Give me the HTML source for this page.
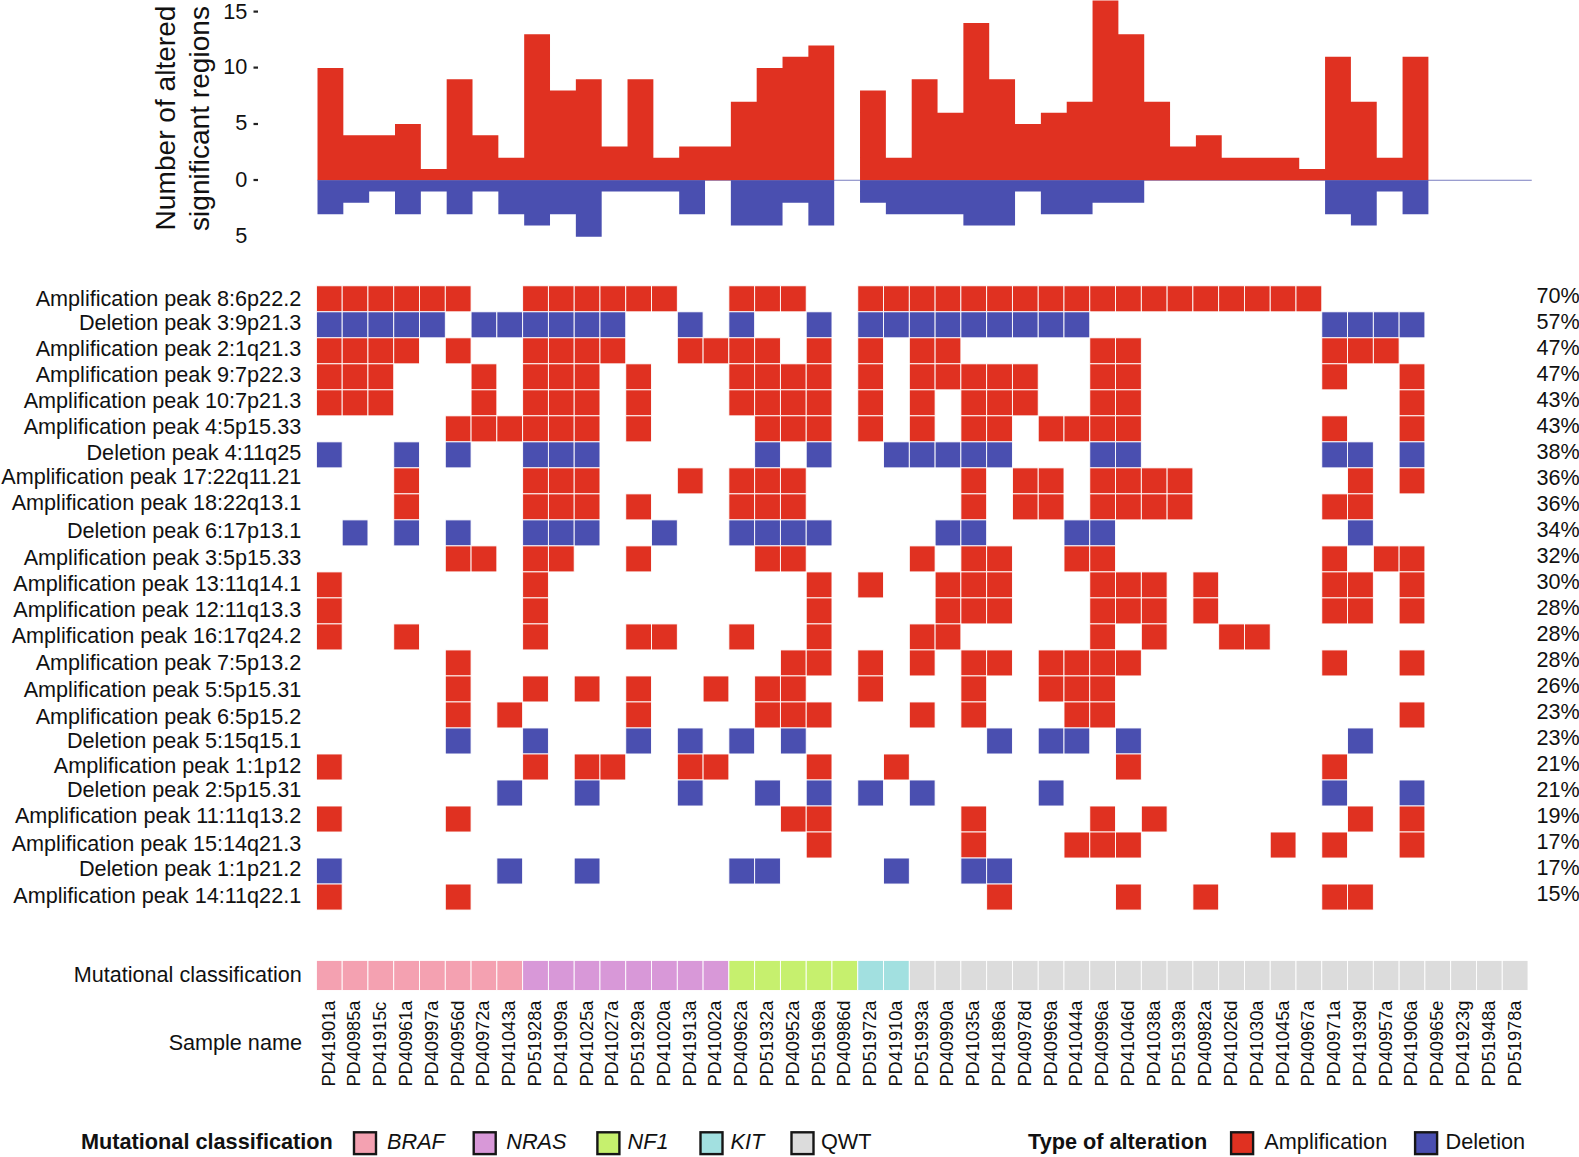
<!DOCTYPE html>
<html lang="en"><head><meta charset="utf-8"><title>Altered significant regions per sample</title>
<style>html,body{margin:0;padding:0;background:#fff}svg{display:block}text{font-family:'Liberation Sans', Arial, Helvetica, sans-serif;fill:#111}</style></head><body>
<svg width="1579" height="1157" viewBox="0 0 1579 1157">
<rect width="1579" height="1157" fill="#fff"/>
<g id="bars" shape-rendering="geometricPrecision">
<line x1="317.5" x2="1531.75" y1="180.25" y2="180.25" stroke="#7A7EC0" stroke-width="1"/>
<path d="M317.50 180.25 L317.50 67.95 L343.33 67.95 L343.33 135.33 L369.17 135.33 L369.17 135.33 L395.00 135.33 L395.00 124.10 L420.84 124.10 L420.84 169.02 L446.68 169.02 L446.68 79.18 L472.51 79.18 L472.51 135.33 L498.35 135.33 L498.35 157.79 L524.18 157.79 L524.18 34.26 L550.01 34.26 L550.01 90.41 L575.85 90.41 L575.85 79.18 L601.68 79.18 L601.68 146.56 L627.52 146.56 L627.52 79.18 L653.36 79.18 L653.36 157.79 L679.19 157.79 L679.19 146.56 L705.03 146.56 L705.03 146.56 L730.86 146.56 L730.86 101.64 L756.69 101.64 L756.69 67.95 L782.53 67.95 L782.53 56.72 L808.37 56.72 L808.37 45.49 L834.20 45.49 L834.20 180.25Z M860.03 180.25 L860.03 90.41 L885.87 90.41 L885.87 157.79 L911.71 157.79 L911.71 79.18 L937.54 79.18 L937.54 112.87 L963.38 112.87 L963.38 23.03 L989.21 23.03 L989.21 79.18 L1015.05 79.18 L1015.05 124.10 L1040.88 124.10 L1040.88 112.87 L1066.72 112.87 L1066.72 101.64 L1092.55 101.64 L1092.55 0.57 L1118.38 0.57 L1118.38 34.26 L1144.22 34.26 L1144.22 101.64 L1170.06 101.64 L1170.06 146.56 L1195.89 146.56 L1195.89 135.33 L1221.72 135.33 L1221.72 157.79 L1247.56 157.79 L1247.56 157.79 L1273.39 157.79 L1273.39 157.79 L1299.23 157.79 L1299.23 169.02 L1325.07 169.02 L1325.07 56.72 L1350.90 56.72 L1350.90 101.64 L1376.74 101.64 L1376.74 157.79 L1402.57 157.79 L1402.57 56.72 L1428.40 56.72 L1428.40 180.25Z" fill="#E03121"/>
<path d="M317.50 180.25 L317.50 214.18 L343.33 214.18 L343.33 202.87 L369.17 202.87 L369.17 191.56 L395.00 191.56 L395.00 214.18 L420.84 214.18 L420.84 191.56 L446.68 191.56 L446.68 214.18 L472.51 214.18 L472.51 191.56 L498.35 191.56 L498.35 214.18 L524.18 214.18 L524.18 225.49 L550.01 225.49 L550.01 214.18 L575.85 214.18 L575.85 236.80 L601.68 236.80 L601.68 191.56 L627.52 191.56 L627.52 191.56 L653.36 191.56 L653.36 191.56 L679.19 191.56 L679.19 214.18 L705.03 214.18 L705.03 180.25Z M730.86 180.25 L730.86 225.49 L756.69 225.49 L756.69 225.49 L782.53 225.49 L782.53 202.87 L808.37 202.87 L808.37 225.49 L834.20 225.49 L834.20 180.25Z M860.03 180.25 L860.03 202.87 L885.87 202.87 L885.87 214.18 L911.71 214.18 L911.71 214.18 L937.54 214.18 L937.54 214.18 L963.38 214.18 L963.38 225.49 L989.21 225.49 L989.21 225.49 L1015.05 225.49 L1015.05 191.56 L1040.88 191.56 L1040.88 214.18 L1066.72 214.18 L1066.72 214.18 L1092.55 214.18 L1092.55 202.87 L1118.38 202.87 L1118.38 202.87 L1144.22 202.87 L1144.22 180.25Z M1325.07 180.25 L1325.07 214.18 L1350.90 214.18 L1350.90 225.49 L1376.74 225.49 L1376.74 191.56 L1402.57 191.56 L1402.57 214.18 L1428.40 214.18 L1428.40 180.25Z" fill="#4A4FB0"/>
</g>
<g id="yaxis" font-size="21.7">
<text x="247.4" y="19.4" text-anchor="end">15</text>
<rect x="253.5" y="10.5" width="4.5" height="2.2" fill="#222"/>
<text x="247.4" y="74.0" text-anchor="end">10</text>
<rect x="253.5" y="66.5" width="4.5" height="2.2" fill="#222"/>
<text x="247.4" y="130.3" text-anchor="end">5</text>
<rect x="253.5" y="122.9" width="4.5" height="2.2" fill="#222"/>
<text x="247.4" y="187.2" text-anchor="end">0</text>
<rect x="253.5" y="178.9" width="4.5" height="2.2" fill="#222"/>
<text x="247.4" y="242.8" text-anchor="end">5</text>
</g>
<g id="ytitle" font-size="28.1">
<text transform="translate(175.0 118) rotate(-90)" text-anchor="middle">Number of altered</text>
<text transform="translate(208.9 118.5) rotate(-90)" text-anchor="middle">significant regions</text>
</g>
<g id="grid" stroke="#fff" stroke-width="0.9">
<rect x="316.40" y="285.80" width="25.78" height="26.01" fill="#E03121"/>
<rect x="342.18" y="285.80" width="25.78" height="26.01" fill="#E03121"/>
<rect x="367.96" y="285.80" width="25.78" height="26.01" fill="#E03121"/>
<rect x="393.74" y="285.80" width="25.78" height="26.01" fill="#E03121"/>
<rect x="419.52" y="285.80" width="25.78" height="26.01" fill="#E03121"/>
<rect x="445.29" y="285.80" width="25.78" height="26.01" fill="#E03121"/>
<rect x="522.63" y="285.80" width="25.78" height="26.01" fill="#E03121"/>
<rect x="548.41" y="285.80" width="25.78" height="26.01" fill="#E03121"/>
<rect x="574.19" y="285.80" width="25.78" height="26.01" fill="#E03121"/>
<rect x="599.97" y="285.80" width="25.78" height="26.01" fill="#E03121"/>
<rect x="625.75" y="285.80" width="25.78" height="26.01" fill="#E03121"/>
<rect x="651.53" y="285.80" width="25.78" height="26.01" fill="#E03121"/>
<rect x="728.86" y="285.80" width="25.78" height="26.01" fill="#E03121"/>
<rect x="754.64" y="285.80" width="25.78" height="26.01" fill="#E03121"/>
<rect x="780.42" y="285.80" width="25.78" height="26.01" fill="#E03121"/>
<rect x="857.76" y="285.80" width="25.78" height="26.01" fill="#E03121"/>
<rect x="883.54" y="285.80" width="25.78" height="26.01" fill="#E03121"/>
<rect x="909.32" y="285.80" width="25.78" height="26.01" fill="#E03121"/>
<rect x="935.10" y="285.80" width="25.78" height="26.01" fill="#E03121"/>
<rect x="960.88" y="285.80" width="25.78" height="26.01" fill="#E03121"/>
<rect x="986.65" y="285.80" width="25.78" height="26.01" fill="#E03121"/>
<rect x="1012.43" y="285.80" width="25.78" height="26.01" fill="#E03121"/>
<rect x="1038.21" y="285.80" width="25.78" height="26.01" fill="#E03121"/>
<rect x="1063.99" y="285.80" width="25.78" height="26.01" fill="#E03121"/>
<rect x="1089.77" y="285.80" width="25.78" height="26.01" fill="#E03121"/>
<rect x="1115.55" y="285.80" width="25.78" height="26.01" fill="#E03121"/>
<rect x="1141.33" y="285.80" width="25.78" height="26.01" fill="#E03121"/>
<rect x="1167.11" y="285.80" width="25.78" height="26.01" fill="#E03121"/>
<rect x="1192.89" y="285.80" width="25.78" height="26.01" fill="#E03121"/>
<rect x="1218.66" y="285.80" width="25.78" height="26.01" fill="#E03121"/>
<rect x="1244.44" y="285.80" width="25.78" height="26.01" fill="#E03121"/>
<rect x="1270.22" y="285.80" width="25.78" height="26.01" fill="#E03121"/>
<rect x="1296.00" y="285.80" width="25.78" height="26.01" fill="#E03121"/>
<rect x="316.40" y="311.81" width="25.78" height="26.01" fill="#4A4FB0"/>
<rect x="342.18" y="311.81" width="25.78" height="26.01" fill="#4A4FB0"/>
<rect x="367.96" y="311.81" width="25.78" height="26.01" fill="#4A4FB0"/>
<rect x="393.74" y="311.81" width="25.78" height="26.01" fill="#4A4FB0"/>
<rect x="419.52" y="311.81" width="25.78" height="26.01" fill="#4A4FB0"/>
<rect x="471.07" y="311.81" width="25.78" height="26.01" fill="#4A4FB0"/>
<rect x="496.85" y="311.81" width="25.78" height="26.01" fill="#4A4FB0"/>
<rect x="522.63" y="311.81" width="25.78" height="26.01" fill="#4A4FB0"/>
<rect x="548.41" y="311.81" width="25.78" height="26.01" fill="#4A4FB0"/>
<rect x="574.19" y="311.81" width="25.78" height="26.01" fill="#4A4FB0"/>
<rect x="599.97" y="311.81" width="25.78" height="26.01" fill="#4A4FB0"/>
<rect x="677.31" y="311.81" width="25.78" height="26.01" fill="#4A4FB0"/>
<rect x="728.86" y="311.81" width="25.78" height="26.01" fill="#4A4FB0"/>
<rect x="806.20" y="311.81" width="25.78" height="26.01" fill="#4A4FB0"/>
<rect x="857.76" y="311.81" width="25.78" height="26.01" fill="#4A4FB0"/>
<rect x="883.54" y="311.81" width="25.78" height="26.01" fill="#4A4FB0"/>
<rect x="909.32" y="311.81" width="25.78" height="26.01" fill="#4A4FB0"/>
<rect x="935.10" y="311.81" width="25.78" height="26.01" fill="#4A4FB0"/>
<rect x="960.88" y="311.81" width="25.78" height="26.01" fill="#4A4FB0"/>
<rect x="986.65" y="311.81" width="25.78" height="26.01" fill="#4A4FB0"/>
<rect x="1012.43" y="311.81" width="25.78" height="26.01" fill="#4A4FB0"/>
<rect x="1038.21" y="311.81" width="25.78" height="26.01" fill="#4A4FB0"/>
<rect x="1063.99" y="311.81" width="25.78" height="26.01" fill="#4A4FB0"/>
<rect x="1321.78" y="311.81" width="25.78" height="26.01" fill="#4A4FB0"/>
<rect x="1347.56" y="311.81" width="25.78" height="26.01" fill="#4A4FB0"/>
<rect x="1373.34" y="311.81" width="25.78" height="26.01" fill="#4A4FB0"/>
<rect x="1399.12" y="311.81" width="25.78" height="26.01" fill="#4A4FB0"/>
<rect x="316.40" y="337.82" width="25.78" height="26.01" fill="#E03121"/>
<rect x="342.18" y="337.82" width="25.78" height="26.01" fill="#E03121"/>
<rect x="367.96" y="337.82" width="25.78" height="26.01" fill="#E03121"/>
<rect x="393.74" y="337.82" width="25.78" height="26.01" fill="#E03121"/>
<rect x="445.29" y="337.82" width="25.78" height="26.01" fill="#E03121"/>
<rect x="522.63" y="337.82" width="25.78" height="26.01" fill="#E03121"/>
<rect x="548.41" y="337.82" width="25.78" height="26.01" fill="#E03121"/>
<rect x="574.19" y="337.82" width="25.78" height="26.01" fill="#E03121"/>
<rect x="599.97" y="337.82" width="25.78" height="26.01" fill="#E03121"/>
<rect x="677.31" y="337.82" width="25.78" height="26.01" fill="#E03121"/>
<rect x="703.09" y="337.82" width="25.78" height="26.01" fill="#E03121"/>
<rect x="728.86" y="337.82" width="25.78" height="26.01" fill="#E03121"/>
<rect x="754.64" y="337.82" width="25.78" height="26.01" fill="#E03121"/>
<rect x="806.20" y="337.82" width="25.78" height="26.01" fill="#E03121"/>
<rect x="857.76" y="337.82" width="25.78" height="26.01" fill="#E03121"/>
<rect x="909.32" y="337.82" width="25.78" height="26.01" fill="#E03121"/>
<rect x="935.10" y="337.82" width="25.78" height="26.01" fill="#E03121"/>
<rect x="1089.77" y="337.82" width="25.78" height="26.01" fill="#E03121"/>
<rect x="1115.55" y="337.82" width="25.78" height="26.01" fill="#E03121"/>
<rect x="1321.78" y="337.82" width="25.78" height="26.01" fill="#E03121"/>
<rect x="1347.56" y="337.82" width="25.78" height="26.01" fill="#E03121"/>
<rect x="1373.34" y="337.82" width="25.78" height="26.01" fill="#E03121"/>
<rect x="316.40" y="363.83" width="25.78" height="26.01" fill="#E03121"/>
<rect x="342.18" y="363.83" width="25.78" height="26.01" fill="#E03121"/>
<rect x="367.96" y="363.83" width="25.78" height="26.01" fill="#E03121"/>
<rect x="471.07" y="363.83" width="25.78" height="26.01" fill="#E03121"/>
<rect x="522.63" y="363.83" width="25.78" height="26.01" fill="#E03121"/>
<rect x="548.41" y="363.83" width="25.78" height="26.01" fill="#E03121"/>
<rect x="574.19" y="363.83" width="25.78" height="26.01" fill="#E03121"/>
<rect x="625.75" y="363.83" width="25.78" height="26.01" fill="#E03121"/>
<rect x="728.86" y="363.83" width="25.78" height="26.01" fill="#E03121"/>
<rect x="754.64" y="363.83" width="25.78" height="26.01" fill="#E03121"/>
<rect x="780.42" y="363.83" width="25.78" height="26.01" fill="#E03121"/>
<rect x="806.20" y="363.83" width="25.78" height="26.01" fill="#E03121"/>
<rect x="857.76" y="363.83" width="25.78" height="26.01" fill="#E03121"/>
<rect x="909.32" y="363.83" width="25.78" height="26.01" fill="#E03121"/>
<rect x="935.10" y="363.83" width="25.78" height="26.01" fill="#E03121"/>
<rect x="960.88" y="363.83" width="25.78" height="26.01" fill="#E03121"/>
<rect x="986.65" y="363.83" width="25.78" height="26.01" fill="#E03121"/>
<rect x="1012.43" y="363.83" width="25.78" height="26.01" fill="#E03121"/>
<rect x="1089.77" y="363.83" width="25.78" height="26.01" fill="#E03121"/>
<rect x="1115.55" y="363.83" width="25.78" height="26.01" fill="#E03121"/>
<rect x="1321.78" y="363.83" width="25.78" height="26.01" fill="#E03121"/>
<rect x="1399.12" y="363.83" width="25.78" height="26.01" fill="#E03121"/>
<rect x="316.40" y="389.84" width="25.78" height="26.01" fill="#E03121"/>
<rect x="342.18" y="389.84" width="25.78" height="26.01" fill="#E03121"/>
<rect x="367.96" y="389.84" width="25.78" height="26.01" fill="#E03121"/>
<rect x="471.07" y="389.84" width="25.78" height="26.01" fill="#E03121"/>
<rect x="522.63" y="389.84" width="25.78" height="26.01" fill="#E03121"/>
<rect x="548.41" y="389.84" width="25.78" height="26.01" fill="#E03121"/>
<rect x="574.19" y="389.84" width="25.78" height="26.01" fill="#E03121"/>
<rect x="625.75" y="389.84" width="25.78" height="26.01" fill="#E03121"/>
<rect x="728.86" y="389.84" width="25.78" height="26.01" fill="#E03121"/>
<rect x="754.64" y="389.84" width="25.78" height="26.01" fill="#E03121"/>
<rect x="780.42" y="389.84" width="25.78" height="26.01" fill="#E03121"/>
<rect x="806.20" y="389.84" width="25.78" height="26.01" fill="#E03121"/>
<rect x="857.76" y="389.84" width="25.78" height="26.01" fill="#E03121"/>
<rect x="909.32" y="389.84" width="25.78" height="26.01" fill="#E03121"/>
<rect x="960.88" y="389.84" width="25.78" height="26.01" fill="#E03121"/>
<rect x="986.65" y="389.84" width="25.78" height="26.01" fill="#E03121"/>
<rect x="1012.43" y="389.84" width="25.78" height="26.01" fill="#E03121"/>
<rect x="1089.77" y="389.84" width="25.78" height="26.01" fill="#E03121"/>
<rect x="1115.55" y="389.84" width="25.78" height="26.01" fill="#E03121"/>
<rect x="1399.12" y="389.84" width="25.78" height="26.01" fill="#E03121"/>
<rect x="445.29" y="415.85" width="25.78" height="26.01" fill="#E03121"/>
<rect x="471.07" y="415.85" width="25.78" height="26.01" fill="#E03121"/>
<rect x="496.85" y="415.85" width="25.78" height="26.01" fill="#E03121"/>
<rect x="522.63" y="415.85" width="25.78" height="26.01" fill="#E03121"/>
<rect x="548.41" y="415.85" width="25.78" height="26.01" fill="#E03121"/>
<rect x="574.19" y="415.85" width="25.78" height="26.01" fill="#E03121"/>
<rect x="625.75" y="415.85" width="25.78" height="26.01" fill="#E03121"/>
<rect x="754.64" y="415.85" width="25.78" height="26.01" fill="#E03121"/>
<rect x="780.42" y="415.85" width="25.78" height="26.01" fill="#E03121"/>
<rect x="806.20" y="415.85" width="25.78" height="26.01" fill="#E03121"/>
<rect x="857.76" y="415.85" width="25.78" height="26.01" fill="#E03121"/>
<rect x="909.32" y="415.85" width="25.78" height="26.01" fill="#E03121"/>
<rect x="960.88" y="415.85" width="25.78" height="26.01" fill="#E03121"/>
<rect x="986.65" y="415.85" width="25.78" height="26.01" fill="#E03121"/>
<rect x="1038.21" y="415.85" width="25.78" height="26.01" fill="#E03121"/>
<rect x="1063.99" y="415.85" width="25.78" height="26.01" fill="#E03121"/>
<rect x="1089.77" y="415.85" width="25.78" height="26.01" fill="#E03121"/>
<rect x="1115.55" y="415.85" width="25.78" height="26.01" fill="#E03121"/>
<rect x="1321.78" y="415.85" width="25.78" height="26.01" fill="#E03121"/>
<rect x="1399.12" y="415.85" width="25.78" height="26.01" fill="#E03121"/>
<rect x="316.40" y="441.86" width="25.78" height="26.01" fill="#4A4FB0"/>
<rect x="393.74" y="441.86" width="25.78" height="26.01" fill="#4A4FB0"/>
<rect x="445.29" y="441.86" width="25.78" height="26.01" fill="#4A4FB0"/>
<rect x="522.63" y="441.86" width="25.78" height="26.01" fill="#4A4FB0"/>
<rect x="548.41" y="441.86" width="25.78" height="26.01" fill="#4A4FB0"/>
<rect x="574.19" y="441.86" width="25.78" height="26.01" fill="#4A4FB0"/>
<rect x="754.64" y="441.86" width="25.78" height="26.01" fill="#4A4FB0"/>
<rect x="806.20" y="441.86" width="25.78" height="26.01" fill="#4A4FB0"/>
<rect x="883.54" y="441.86" width="25.78" height="26.01" fill="#4A4FB0"/>
<rect x="909.32" y="441.86" width="25.78" height="26.01" fill="#4A4FB0"/>
<rect x="935.10" y="441.86" width="25.78" height="26.01" fill="#4A4FB0"/>
<rect x="960.88" y="441.86" width="25.78" height="26.01" fill="#4A4FB0"/>
<rect x="986.65" y="441.86" width="25.78" height="26.01" fill="#4A4FB0"/>
<rect x="1089.77" y="441.86" width="25.78" height="26.01" fill="#4A4FB0"/>
<rect x="1115.55" y="441.86" width="25.78" height="26.01" fill="#4A4FB0"/>
<rect x="1321.78" y="441.86" width="25.78" height="26.01" fill="#4A4FB0"/>
<rect x="1347.56" y="441.86" width="25.78" height="26.01" fill="#4A4FB0"/>
<rect x="1399.12" y="441.86" width="25.78" height="26.01" fill="#4A4FB0"/>
<rect x="393.74" y="467.87" width="25.78" height="26.01" fill="#E03121"/>
<rect x="522.63" y="467.87" width="25.78" height="26.01" fill="#E03121"/>
<rect x="548.41" y="467.87" width="25.78" height="26.01" fill="#E03121"/>
<rect x="574.19" y="467.87" width="25.78" height="26.01" fill="#E03121"/>
<rect x="677.31" y="467.87" width="25.78" height="26.01" fill="#E03121"/>
<rect x="728.86" y="467.87" width="25.78" height="26.01" fill="#E03121"/>
<rect x="754.64" y="467.87" width="25.78" height="26.01" fill="#E03121"/>
<rect x="780.42" y="467.87" width="25.78" height="26.01" fill="#E03121"/>
<rect x="960.88" y="467.87" width="25.78" height="26.01" fill="#E03121"/>
<rect x="1012.43" y="467.87" width="25.78" height="26.01" fill="#E03121"/>
<rect x="1038.21" y="467.87" width="25.78" height="26.01" fill="#E03121"/>
<rect x="1089.77" y="467.87" width="25.78" height="26.01" fill="#E03121"/>
<rect x="1115.55" y="467.87" width="25.78" height="26.01" fill="#E03121"/>
<rect x="1141.33" y="467.87" width="25.78" height="26.01" fill="#E03121"/>
<rect x="1167.11" y="467.87" width="25.78" height="26.01" fill="#E03121"/>
<rect x="1347.56" y="467.87" width="25.78" height="26.01" fill="#E03121"/>
<rect x="1399.12" y="467.87" width="25.78" height="26.01" fill="#E03121"/>
<rect x="393.74" y="493.88" width="25.78" height="26.01" fill="#E03121"/>
<rect x="522.63" y="493.88" width="25.78" height="26.01" fill="#E03121"/>
<rect x="548.41" y="493.88" width="25.78" height="26.01" fill="#E03121"/>
<rect x="574.19" y="493.88" width="25.78" height="26.01" fill="#E03121"/>
<rect x="625.75" y="493.88" width="25.78" height="26.01" fill="#E03121"/>
<rect x="728.86" y="493.88" width="25.78" height="26.01" fill="#E03121"/>
<rect x="754.64" y="493.88" width="25.78" height="26.01" fill="#E03121"/>
<rect x="780.42" y="493.88" width="25.78" height="26.01" fill="#E03121"/>
<rect x="960.88" y="493.88" width="25.78" height="26.01" fill="#E03121"/>
<rect x="1012.43" y="493.88" width="25.78" height="26.01" fill="#E03121"/>
<rect x="1038.21" y="493.88" width="25.78" height="26.01" fill="#E03121"/>
<rect x="1089.77" y="493.88" width="25.78" height="26.01" fill="#E03121"/>
<rect x="1115.55" y="493.88" width="25.78" height="26.01" fill="#E03121"/>
<rect x="1141.33" y="493.88" width="25.78" height="26.01" fill="#E03121"/>
<rect x="1167.11" y="493.88" width="25.78" height="26.01" fill="#E03121"/>
<rect x="1321.78" y="493.88" width="25.78" height="26.01" fill="#E03121"/>
<rect x="1347.56" y="493.88" width="25.78" height="26.01" fill="#E03121"/>
<rect x="342.18" y="519.89" width="25.78" height="26.01" fill="#4A4FB0"/>
<rect x="393.74" y="519.89" width="25.78" height="26.01" fill="#4A4FB0"/>
<rect x="445.29" y="519.89" width="25.78" height="26.01" fill="#4A4FB0"/>
<rect x="522.63" y="519.89" width="25.78" height="26.01" fill="#4A4FB0"/>
<rect x="548.41" y="519.89" width="25.78" height="26.01" fill="#4A4FB0"/>
<rect x="574.19" y="519.89" width="25.78" height="26.01" fill="#4A4FB0"/>
<rect x="651.53" y="519.89" width="25.78" height="26.01" fill="#4A4FB0"/>
<rect x="728.86" y="519.89" width="25.78" height="26.01" fill="#4A4FB0"/>
<rect x="754.64" y="519.89" width="25.78" height="26.01" fill="#4A4FB0"/>
<rect x="780.42" y="519.89" width="25.78" height="26.01" fill="#4A4FB0"/>
<rect x="806.20" y="519.89" width="25.78" height="26.01" fill="#4A4FB0"/>
<rect x="935.10" y="519.89" width="25.78" height="26.01" fill="#4A4FB0"/>
<rect x="960.88" y="519.89" width="25.78" height="26.01" fill="#4A4FB0"/>
<rect x="1063.99" y="519.89" width="25.78" height="26.01" fill="#4A4FB0"/>
<rect x="1089.77" y="519.89" width="25.78" height="26.01" fill="#4A4FB0"/>
<rect x="1347.56" y="519.89" width="25.78" height="26.01" fill="#4A4FB0"/>
<rect x="445.29" y="545.90" width="25.78" height="26.01" fill="#E03121"/>
<rect x="471.07" y="545.90" width="25.78" height="26.01" fill="#E03121"/>
<rect x="522.63" y="545.90" width="25.78" height="26.01" fill="#E03121"/>
<rect x="548.41" y="545.90" width="25.78" height="26.01" fill="#E03121"/>
<rect x="625.75" y="545.90" width="25.78" height="26.01" fill="#E03121"/>
<rect x="754.64" y="545.90" width="25.78" height="26.01" fill="#E03121"/>
<rect x="780.42" y="545.90" width="25.78" height="26.01" fill="#E03121"/>
<rect x="909.32" y="545.90" width="25.78" height="26.01" fill="#E03121"/>
<rect x="960.88" y="545.90" width="25.78" height="26.01" fill="#E03121"/>
<rect x="986.65" y="545.90" width="25.78" height="26.01" fill="#E03121"/>
<rect x="1063.99" y="545.90" width="25.78" height="26.01" fill="#E03121"/>
<rect x="1089.77" y="545.90" width="25.78" height="26.01" fill="#E03121"/>
<rect x="1321.78" y="545.90" width="25.78" height="26.01" fill="#E03121"/>
<rect x="1373.34" y="545.90" width="25.78" height="26.01" fill="#E03121"/>
<rect x="1399.12" y="545.90" width="25.78" height="26.01" fill="#E03121"/>
<rect x="316.40" y="571.91" width="25.78" height="26.01" fill="#E03121"/>
<rect x="522.63" y="571.91" width="25.78" height="26.01" fill="#E03121"/>
<rect x="806.20" y="571.91" width="25.78" height="26.01" fill="#E03121"/>
<rect x="857.76" y="571.91" width="25.78" height="26.01" fill="#E03121"/>
<rect x="935.10" y="571.91" width="25.78" height="26.01" fill="#E03121"/>
<rect x="960.88" y="571.91" width="25.78" height="26.01" fill="#E03121"/>
<rect x="986.65" y="571.91" width="25.78" height="26.01" fill="#E03121"/>
<rect x="1089.77" y="571.91" width="25.78" height="26.01" fill="#E03121"/>
<rect x="1115.55" y="571.91" width="25.78" height="26.01" fill="#E03121"/>
<rect x="1141.33" y="571.91" width="25.78" height="26.01" fill="#E03121"/>
<rect x="1192.89" y="571.91" width="25.78" height="26.01" fill="#E03121"/>
<rect x="1321.78" y="571.91" width="25.78" height="26.01" fill="#E03121"/>
<rect x="1347.56" y="571.91" width="25.78" height="26.01" fill="#E03121"/>
<rect x="1399.12" y="571.91" width="25.78" height="26.01" fill="#E03121"/>
<rect x="316.40" y="597.92" width="25.78" height="26.01" fill="#E03121"/>
<rect x="522.63" y="597.92" width="25.78" height="26.01" fill="#E03121"/>
<rect x="806.20" y="597.92" width="25.78" height="26.01" fill="#E03121"/>
<rect x="935.10" y="597.92" width="25.78" height="26.01" fill="#E03121"/>
<rect x="960.88" y="597.92" width="25.78" height="26.01" fill="#E03121"/>
<rect x="986.65" y="597.92" width="25.78" height="26.01" fill="#E03121"/>
<rect x="1089.77" y="597.92" width="25.78" height="26.01" fill="#E03121"/>
<rect x="1115.55" y="597.92" width="25.78" height="26.01" fill="#E03121"/>
<rect x="1141.33" y="597.92" width="25.78" height="26.01" fill="#E03121"/>
<rect x="1192.89" y="597.92" width="25.78" height="26.01" fill="#E03121"/>
<rect x="1321.78" y="597.92" width="25.78" height="26.01" fill="#E03121"/>
<rect x="1347.56" y="597.92" width="25.78" height="26.01" fill="#E03121"/>
<rect x="1399.12" y="597.92" width="25.78" height="26.01" fill="#E03121"/>
<rect x="316.40" y="623.93" width="25.78" height="26.01" fill="#E03121"/>
<rect x="393.74" y="623.93" width="25.78" height="26.01" fill="#E03121"/>
<rect x="522.63" y="623.93" width="25.78" height="26.01" fill="#E03121"/>
<rect x="625.75" y="623.93" width="25.78" height="26.01" fill="#E03121"/>
<rect x="651.53" y="623.93" width="25.78" height="26.01" fill="#E03121"/>
<rect x="728.86" y="623.93" width="25.78" height="26.01" fill="#E03121"/>
<rect x="806.20" y="623.93" width="25.78" height="26.01" fill="#E03121"/>
<rect x="909.32" y="623.93" width="25.78" height="26.01" fill="#E03121"/>
<rect x="935.10" y="623.93" width="25.78" height="26.01" fill="#E03121"/>
<rect x="1089.77" y="623.93" width="25.78" height="26.01" fill="#E03121"/>
<rect x="1141.33" y="623.93" width="25.78" height="26.01" fill="#E03121"/>
<rect x="1218.66" y="623.93" width="25.78" height="26.01" fill="#E03121"/>
<rect x="1244.44" y="623.93" width="25.78" height="26.01" fill="#E03121"/>
<rect x="445.29" y="649.94" width="25.78" height="26.01" fill="#E03121"/>
<rect x="780.42" y="649.94" width="25.78" height="26.01" fill="#E03121"/>
<rect x="806.20" y="649.94" width="25.78" height="26.01" fill="#E03121"/>
<rect x="857.76" y="649.94" width="25.78" height="26.01" fill="#E03121"/>
<rect x="909.32" y="649.94" width="25.78" height="26.01" fill="#E03121"/>
<rect x="960.88" y="649.94" width="25.78" height="26.01" fill="#E03121"/>
<rect x="986.65" y="649.94" width="25.78" height="26.01" fill="#E03121"/>
<rect x="1038.21" y="649.94" width="25.78" height="26.01" fill="#E03121"/>
<rect x="1063.99" y="649.94" width="25.78" height="26.01" fill="#E03121"/>
<rect x="1089.77" y="649.94" width="25.78" height="26.01" fill="#E03121"/>
<rect x="1115.55" y="649.94" width="25.78" height="26.01" fill="#E03121"/>
<rect x="1321.78" y="649.94" width="25.78" height="26.01" fill="#E03121"/>
<rect x="1399.12" y="649.94" width="25.78" height="26.01" fill="#E03121"/>
<rect x="445.29" y="675.95" width="25.78" height="26.01" fill="#E03121"/>
<rect x="522.63" y="675.95" width="25.78" height="26.01" fill="#E03121"/>
<rect x="574.19" y="675.95" width="25.78" height="26.01" fill="#E03121"/>
<rect x="625.75" y="675.95" width="25.78" height="26.01" fill="#E03121"/>
<rect x="703.09" y="675.95" width="25.78" height="26.01" fill="#E03121"/>
<rect x="754.64" y="675.95" width="25.78" height="26.01" fill="#E03121"/>
<rect x="780.42" y="675.95" width="25.78" height="26.01" fill="#E03121"/>
<rect x="857.76" y="675.95" width="25.78" height="26.01" fill="#E03121"/>
<rect x="960.88" y="675.95" width="25.78" height="26.01" fill="#E03121"/>
<rect x="1038.21" y="675.95" width="25.78" height="26.01" fill="#E03121"/>
<rect x="1063.99" y="675.95" width="25.78" height="26.01" fill="#E03121"/>
<rect x="1089.77" y="675.95" width="25.78" height="26.01" fill="#E03121"/>
<rect x="445.29" y="701.96" width="25.78" height="26.01" fill="#E03121"/>
<rect x="496.85" y="701.96" width="25.78" height="26.01" fill="#E03121"/>
<rect x="625.75" y="701.96" width="25.78" height="26.01" fill="#E03121"/>
<rect x="754.64" y="701.96" width="25.78" height="26.01" fill="#E03121"/>
<rect x="780.42" y="701.96" width="25.78" height="26.01" fill="#E03121"/>
<rect x="806.20" y="701.96" width="25.78" height="26.01" fill="#E03121"/>
<rect x="909.32" y="701.96" width="25.78" height="26.01" fill="#E03121"/>
<rect x="960.88" y="701.96" width="25.78" height="26.01" fill="#E03121"/>
<rect x="1063.99" y="701.96" width="25.78" height="26.01" fill="#E03121"/>
<rect x="1089.77" y="701.96" width="25.78" height="26.01" fill="#E03121"/>
<rect x="1399.12" y="701.96" width="25.78" height="26.01" fill="#E03121"/>
<rect x="445.29" y="727.97" width="25.78" height="26.01" fill="#4A4FB0"/>
<rect x="522.63" y="727.97" width="25.78" height="26.01" fill="#4A4FB0"/>
<rect x="625.75" y="727.97" width="25.78" height="26.01" fill="#4A4FB0"/>
<rect x="677.31" y="727.97" width="25.78" height="26.01" fill="#4A4FB0"/>
<rect x="728.86" y="727.97" width="25.78" height="26.01" fill="#4A4FB0"/>
<rect x="780.42" y="727.97" width="25.78" height="26.01" fill="#4A4FB0"/>
<rect x="986.65" y="727.97" width="25.78" height="26.01" fill="#4A4FB0"/>
<rect x="1038.21" y="727.97" width="25.78" height="26.01" fill="#4A4FB0"/>
<rect x="1063.99" y="727.97" width="25.78" height="26.01" fill="#4A4FB0"/>
<rect x="1115.55" y="727.97" width="25.78" height="26.01" fill="#4A4FB0"/>
<rect x="1347.56" y="727.97" width="25.78" height="26.01" fill="#4A4FB0"/>
<rect x="316.40" y="753.98" width="25.78" height="26.01" fill="#E03121"/>
<rect x="522.63" y="753.98" width="25.78" height="26.01" fill="#E03121"/>
<rect x="574.19" y="753.98" width="25.78" height="26.01" fill="#E03121"/>
<rect x="599.97" y="753.98" width="25.78" height="26.01" fill="#E03121"/>
<rect x="677.31" y="753.98" width="25.78" height="26.01" fill="#E03121"/>
<rect x="703.09" y="753.98" width="25.78" height="26.01" fill="#E03121"/>
<rect x="806.20" y="753.98" width="25.78" height="26.01" fill="#E03121"/>
<rect x="883.54" y="753.98" width="25.78" height="26.01" fill="#E03121"/>
<rect x="1115.55" y="753.98" width="25.78" height="26.01" fill="#E03121"/>
<rect x="1321.78" y="753.98" width="25.78" height="26.01" fill="#E03121"/>
<rect x="496.85" y="779.99" width="25.78" height="26.01" fill="#4A4FB0"/>
<rect x="574.19" y="779.99" width="25.78" height="26.01" fill="#4A4FB0"/>
<rect x="677.31" y="779.99" width="25.78" height="26.01" fill="#4A4FB0"/>
<rect x="754.64" y="779.99" width="25.78" height="26.01" fill="#4A4FB0"/>
<rect x="806.20" y="779.99" width="25.78" height="26.01" fill="#4A4FB0"/>
<rect x="857.76" y="779.99" width="25.78" height="26.01" fill="#4A4FB0"/>
<rect x="909.32" y="779.99" width="25.78" height="26.01" fill="#4A4FB0"/>
<rect x="1038.21" y="779.99" width="25.78" height="26.01" fill="#4A4FB0"/>
<rect x="1321.78" y="779.99" width="25.78" height="26.01" fill="#4A4FB0"/>
<rect x="1399.12" y="779.99" width="25.78" height="26.01" fill="#4A4FB0"/>
<rect x="316.40" y="806.00" width="25.78" height="26.01" fill="#E03121"/>
<rect x="445.29" y="806.00" width="25.78" height="26.01" fill="#E03121"/>
<rect x="780.42" y="806.00" width="25.78" height="26.01" fill="#E03121"/>
<rect x="806.20" y="806.00" width="25.78" height="26.01" fill="#E03121"/>
<rect x="960.88" y="806.00" width="25.78" height="26.01" fill="#E03121"/>
<rect x="1089.77" y="806.00" width="25.78" height="26.01" fill="#E03121"/>
<rect x="1141.33" y="806.00" width="25.78" height="26.01" fill="#E03121"/>
<rect x="1347.56" y="806.00" width="25.78" height="26.01" fill="#E03121"/>
<rect x="1399.12" y="806.00" width="25.78" height="26.01" fill="#E03121"/>
<rect x="806.20" y="832.01" width="25.78" height="26.01" fill="#E03121"/>
<rect x="960.88" y="832.01" width="25.78" height="26.01" fill="#E03121"/>
<rect x="1063.99" y="832.01" width="25.78" height="26.01" fill="#E03121"/>
<rect x="1089.77" y="832.01" width="25.78" height="26.01" fill="#E03121"/>
<rect x="1115.55" y="832.01" width="25.78" height="26.01" fill="#E03121"/>
<rect x="1270.22" y="832.01" width="25.78" height="26.01" fill="#E03121"/>
<rect x="1321.78" y="832.01" width="25.78" height="26.01" fill="#E03121"/>
<rect x="1399.12" y="832.01" width="25.78" height="26.01" fill="#E03121"/>
<rect x="316.40" y="858.02" width="25.78" height="26.01" fill="#4A4FB0"/>
<rect x="496.85" y="858.02" width="25.78" height="26.01" fill="#4A4FB0"/>
<rect x="574.19" y="858.02" width="25.78" height="26.01" fill="#4A4FB0"/>
<rect x="728.86" y="858.02" width="25.78" height="26.01" fill="#4A4FB0"/>
<rect x="754.64" y="858.02" width="25.78" height="26.01" fill="#4A4FB0"/>
<rect x="883.54" y="858.02" width="25.78" height="26.01" fill="#4A4FB0"/>
<rect x="960.88" y="858.02" width="25.78" height="26.01" fill="#4A4FB0"/>
<rect x="986.65" y="858.02" width="25.78" height="26.01" fill="#4A4FB0"/>
<rect x="316.40" y="884.03" width="25.78" height="26.01" fill="#E03121"/>
<rect x="445.29" y="884.03" width="25.78" height="26.01" fill="#E03121"/>
<rect x="986.65" y="884.03" width="25.78" height="26.01" fill="#E03121"/>
<rect x="1115.55" y="884.03" width="25.78" height="26.01" fill="#E03121"/>
<rect x="1192.89" y="884.03" width="25.78" height="26.01" fill="#E03121"/>
<rect x="1321.78" y="884.03" width="25.78" height="26.01" fill="#E03121"/>
<rect x="1347.56" y="884.03" width="25.78" height="26.01" fill="#E03121"/>
</g>
<g id="rowlabels" font-size="21.62" text-anchor="end">
<text x="301.2" y="305.5">Amplification peak 8:6p22.2</text>
<text x="301.2" y="329.5">Deletion peak 3:9p21.3</text>
<text x="301.2" y="355.7">Amplification peak 2:1q21.3</text>
<text x="301.2" y="381.8">Amplification peak 9:7p22.3</text>
<text x="301.2" y="407.5">Amplification peak 10:7p21.3</text>
<text x="301.2" y="434.0">Amplification peak 4:5p15.33</text>
<text x="301.2" y="460.1">Deletion peak 4:11q25</text>
<text x="301.2" y="484.2">Amplification peak 17:22q11.21</text>
<text x="301.2" y="510.3">Amplification peak 18:22q13.1</text>
<text x="301.2" y="537.9">Deletion peak 6:17p13.1</text>
<text x="301.2" y="564.6">Amplification peak 3:5p15.33</text>
<text x="301.2" y="590.8">Amplification peak 13:11q14.1</text>
<text x="301.2" y="617.3">Amplification peak 12:11q13.3</text>
<text x="301.2" y="643.0">Amplification peak 16:17q24.2</text>
<text x="301.2" y="669.6">Amplification peak 7:5p13.2</text>
<text x="301.2" y="697.3">Amplification peak 5:5p15.31</text>
<text x="301.2" y="724.1">Amplification peak 6:5p15.2</text>
<text x="301.2" y="747.9">Deletion peak 5:15q15.1</text>
<text x="301.2" y="772.5">Amplification peak 1:1p12</text>
<text x="301.2" y="796.6">Deletion peak 2:5p15.31</text>
<text x="301.2" y="822.7">Amplification peak 11:11q13.2</text>
<text x="301.2" y="850.5">Amplification peak 15:14q21.3</text>
<text x="301.2" y="876.0">Deletion peak 1:1p21.2</text>
<text x="301.2" y="903.2">Amplification peak 14:11q22.1</text>
</g>
<g id="pct" font-size="21.6">
<text x="1536.6" y="303.2">70%</text>
<text x="1536.6" y="329.2">57%</text>
<text x="1536.6" y="355.2">47%</text>
<text x="1536.6" y="381.2">47%</text>
<text x="1536.6" y="407.2">43%</text>
<text x="1536.6" y="433.2">43%</text>
<text x="1536.6" y="459.3">38%</text>
<text x="1536.6" y="485.3">36%</text>
<text x="1536.6" y="511.3">36%</text>
<text x="1536.6" y="537.3">34%</text>
<text x="1536.6" y="563.3">32%</text>
<text x="1536.6" y="589.3">30%</text>
<text x="1536.6" y="615.3">28%</text>
<text x="1536.6" y="641.3">28%</text>
<text x="1536.6" y="667.3">28%</text>
<text x="1536.6" y="693.4">26%</text>
<text x="1536.6" y="719.4">23%</text>
<text x="1536.6" y="745.4">23%</text>
<text x="1536.6" y="771.4">21%</text>
<text x="1536.6" y="797.4">21%</text>
<text x="1536.6" y="823.4">19%</text>
<text x="1536.6" y="849.4">17%</text>
<text x="1536.6" y="875.4">17%</text>
<text x="1536.6" y="901.4">15%</text>
</g>
<g id="class" stroke="#fff" stroke-width="0.9">
<rect x="316.40" y="960.4" width="25.78" height="30.100000000000023" fill="#F4A1B1"/>
<rect x="342.18" y="960.4" width="25.78" height="30.100000000000023" fill="#F4A1B1"/>
<rect x="367.96" y="960.4" width="25.78" height="30.100000000000023" fill="#F4A1B1"/>
<rect x="393.74" y="960.4" width="25.78" height="30.100000000000023" fill="#F4A1B1"/>
<rect x="419.52" y="960.4" width="25.78" height="30.100000000000023" fill="#F4A1B1"/>
<rect x="445.29" y="960.4" width="25.78" height="30.100000000000023" fill="#F4A1B1"/>
<rect x="471.07" y="960.4" width="25.78" height="30.100000000000023" fill="#F4A1B1"/>
<rect x="496.85" y="960.4" width="25.78" height="30.100000000000023" fill="#F4A1B1"/>
<rect x="522.63" y="960.4" width="25.78" height="30.100000000000023" fill="#D898D8"/>
<rect x="548.41" y="960.4" width="25.78" height="30.100000000000023" fill="#D898D8"/>
<rect x="574.19" y="960.4" width="25.78" height="30.100000000000023" fill="#D898D8"/>
<rect x="599.97" y="960.4" width="25.78" height="30.100000000000023" fill="#D898D8"/>
<rect x="625.75" y="960.4" width="25.78" height="30.100000000000023" fill="#D898D8"/>
<rect x="651.53" y="960.4" width="25.78" height="30.100000000000023" fill="#D898D8"/>
<rect x="677.31" y="960.4" width="25.78" height="30.100000000000023" fill="#D898D8"/>
<rect x="703.09" y="960.4" width="25.78" height="30.100000000000023" fill="#D898D8"/>
<rect x="728.86" y="960.4" width="25.78" height="30.100000000000023" fill="#C6F06E"/>
<rect x="754.64" y="960.4" width="25.78" height="30.100000000000023" fill="#C6F06E"/>
<rect x="780.42" y="960.4" width="25.78" height="30.100000000000023" fill="#C6F06E"/>
<rect x="806.20" y="960.4" width="25.78" height="30.100000000000023" fill="#C6F06E"/>
<rect x="831.98" y="960.4" width="25.78" height="30.100000000000023" fill="#C6F06E"/>
<rect x="857.76" y="960.4" width="25.78" height="30.100000000000023" fill="#A2E0E0"/>
<rect x="883.54" y="960.4" width="25.78" height="30.100000000000023" fill="#A2E0E0"/>
<rect x="909.32" y="960.4" width="25.78" height="30.100000000000023" fill="#DCDCDC"/>
<rect x="935.10" y="960.4" width="25.78" height="30.100000000000023" fill="#DCDCDC"/>
<rect x="960.88" y="960.4" width="25.78" height="30.100000000000023" fill="#DCDCDC"/>
<rect x="986.65" y="960.4" width="25.78" height="30.100000000000023" fill="#DCDCDC"/>
<rect x="1012.43" y="960.4" width="25.78" height="30.100000000000023" fill="#DCDCDC"/>
<rect x="1038.21" y="960.4" width="25.78" height="30.100000000000023" fill="#DCDCDC"/>
<rect x="1063.99" y="960.4" width="25.78" height="30.100000000000023" fill="#DCDCDC"/>
<rect x="1089.77" y="960.4" width="25.78" height="30.100000000000023" fill="#DCDCDC"/>
<rect x="1115.55" y="960.4" width="25.78" height="30.100000000000023" fill="#DCDCDC"/>
<rect x="1141.33" y="960.4" width="25.78" height="30.100000000000023" fill="#DCDCDC"/>
<rect x="1167.11" y="960.4" width="25.78" height="30.100000000000023" fill="#DCDCDC"/>
<rect x="1192.89" y="960.4" width="25.78" height="30.100000000000023" fill="#DCDCDC"/>
<rect x="1218.66" y="960.4" width="25.78" height="30.100000000000023" fill="#DCDCDC"/>
<rect x="1244.44" y="960.4" width="25.78" height="30.100000000000023" fill="#DCDCDC"/>
<rect x="1270.22" y="960.4" width="25.78" height="30.100000000000023" fill="#DCDCDC"/>
<rect x="1296.00" y="960.4" width="25.78" height="30.100000000000023" fill="#DCDCDC"/>
<rect x="1321.78" y="960.4" width="25.78" height="30.100000000000023" fill="#DCDCDC"/>
<rect x="1347.56" y="960.4" width="25.78" height="30.100000000000023" fill="#DCDCDC"/>
<rect x="1373.34" y="960.4" width="25.78" height="30.100000000000023" fill="#DCDCDC"/>
<rect x="1399.12" y="960.4" width="25.78" height="30.100000000000023" fill="#DCDCDC"/>
<rect x="1424.90" y="960.4" width="25.78" height="30.100000000000023" fill="#DCDCDC"/>
<rect x="1450.68" y="960.4" width="25.78" height="30.100000000000023" fill="#DCDCDC"/>
<rect x="1476.45" y="960.4" width="25.78" height="30.100000000000023" fill="#DCDCDC"/>
<rect x="1502.23" y="960.4" width="25.78" height="30.100000000000023" fill="#DCDCDC"/>
</g>
<g font-size="21.6" text-anchor="end">
<text x="301.8" y="982">Mutational classification</text>
<text x="301.9" y="1050">Sample name</text>
</g>
<g id="samples" font-size="18.2">
<text transform="translate(334.70 1086.6) rotate(-90)">PD41901a</text>
<text transform="translate(360.48 1086.6) rotate(-90)">PD40985a</text>
<text transform="translate(386.26 1086.6) rotate(-90)">PD41915c</text>
<text transform="translate(412.04 1086.6) rotate(-90)">PD40961a</text>
<text transform="translate(437.82 1086.6) rotate(-90)">PD40997a</text>
<text transform="translate(463.60 1086.6) rotate(-90)">PD40956d</text>
<text transform="translate(489.38 1086.6) rotate(-90)">PD40972a</text>
<text transform="translate(515.16 1086.6) rotate(-90)">PD41043a</text>
<text transform="translate(540.94 1086.6) rotate(-90)">PD51928a</text>
<text transform="translate(566.72 1086.6) rotate(-90)">PD41909a</text>
<text transform="translate(592.50 1086.6) rotate(-90)">PD41025a</text>
<text transform="translate(618.28 1086.6) rotate(-90)">PD41027a</text>
<text transform="translate(644.06 1086.6) rotate(-90)">PD51929a</text>
<text transform="translate(669.84 1086.6) rotate(-90)">PD41020a</text>
<text transform="translate(695.62 1086.6) rotate(-90)">PD41913a</text>
<text transform="translate(721.40 1086.6) rotate(-90)">PD41002a</text>
<text transform="translate(747.18 1086.6) rotate(-90)">PD40962a</text>
<text transform="translate(772.96 1086.6) rotate(-90)">PD51932a</text>
<text transform="translate(798.74 1086.6) rotate(-90)">PD40952a</text>
<text transform="translate(824.52 1086.6) rotate(-90)">PD51969a</text>
<text transform="translate(850.30 1086.6) rotate(-90)">PD40986d</text>
<text transform="translate(876.08 1086.6) rotate(-90)">PD51972a</text>
<text transform="translate(901.86 1086.6) rotate(-90)">PD41910a</text>
<text transform="translate(927.64 1086.6) rotate(-90)">PD51993a</text>
<text transform="translate(953.42 1086.6) rotate(-90)">PD40990a</text>
<text transform="translate(979.20 1086.6) rotate(-90)">PD41035a</text>
<text transform="translate(1004.98 1086.6) rotate(-90)">PD41896a</text>
<text transform="translate(1030.76 1086.6) rotate(-90)">PD40978d</text>
<text transform="translate(1056.54 1086.6) rotate(-90)">PD40969a</text>
<text transform="translate(1082.32 1086.6) rotate(-90)">PD41044a</text>
<text transform="translate(1108.10 1086.6) rotate(-90)">PD40996a</text>
<text transform="translate(1133.88 1086.6) rotate(-90)">PD41046d</text>
<text transform="translate(1159.66 1086.6) rotate(-90)">PD41038a</text>
<text transform="translate(1185.44 1086.6) rotate(-90)">PD51939a</text>
<text transform="translate(1211.22 1086.6) rotate(-90)">PD40982a</text>
<text transform="translate(1237.00 1086.6) rotate(-90)">PD41026d</text>
<text transform="translate(1262.78 1086.6) rotate(-90)">PD41030a</text>
<text transform="translate(1288.56 1086.6) rotate(-90)">PD41045a</text>
<text transform="translate(1314.34 1086.6) rotate(-90)">PD40967a</text>
<text transform="translate(1340.12 1086.6) rotate(-90)">PD40971a</text>
<text transform="translate(1365.90 1086.6) rotate(-90)">PD41939d</text>
<text transform="translate(1391.68 1086.6) rotate(-90)">PD40957a</text>
<text transform="translate(1417.46 1086.6) rotate(-90)">PD41906a</text>
<text transform="translate(1443.24 1086.6) rotate(-90)">PD40965e</text>
<text transform="translate(1469.02 1086.6) rotate(-90)">PD41923g</text>
<text transform="translate(1494.80 1086.6) rotate(-90)">PD51948a</text>
<text transform="translate(1520.58 1086.6) rotate(-90)">PD51978a</text>
</g>
<g id="legend" font-size="21.7">
<text x="81.0" y="1149.3" font-weight="bold">Mutational classification</text>
<rect x="354.0" y="1132.3" width="22.0" height="21.8" fill="#F4A1B1" stroke="#161616" stroke-width="2.4"/>
<text x="387.0" y="1149.3" font-style="italic">BRAF</text>
<rect x="473.7" y="1132.3" width="22.0" height="21.8" fill="#D898D8" stroke="#161616" stroke-width="2.4"/>
<text x="506.3" y="1149.3" font-style="italic">NRAS</text>
<rect x="597.4" y="1132.3" width="22.0" height="21.8" fill="#C6F06E" stroke="#161616" stroke-width="2.4"/>
<text x="627.5" y="1149.3" font-style="italic">NF1</text>
<rect x="700.5" y="1132.3" width="22.0" height="21.8" fill="#A2E0E0" stroke="#161616" stroke-width="2.4"/>
<text x="730.5" y="1149.3" font-style="italic">KIT</text>
<rect x="791.5" y="1132.3" width="22.0" height="21.8" fill="#DCDCDC" stroke="#161616" stroke-width="2.4"/>
<text x="821.0" y="1149.3">QWT</text>
<text x="1028.0" y="1149.3" font-weight="bold">Type of alteration</text>
<rect x="1231.1" y="1132.3" width="22.0" height="21.8" fill="#E03121" stroke="#161616" stroke-width="2.4"/>
<text x="1264.3" y="1149.3">Amplification</text>
<rect x="1415.1" y="1132.3" width="22.0" height="21.8" fill="#4A4FB0" stroke="#161616" stroke-width="2.4"/>
<text x="1445.5" y="1149.3">Deletion</text>
</g>
</svg></body></html>
